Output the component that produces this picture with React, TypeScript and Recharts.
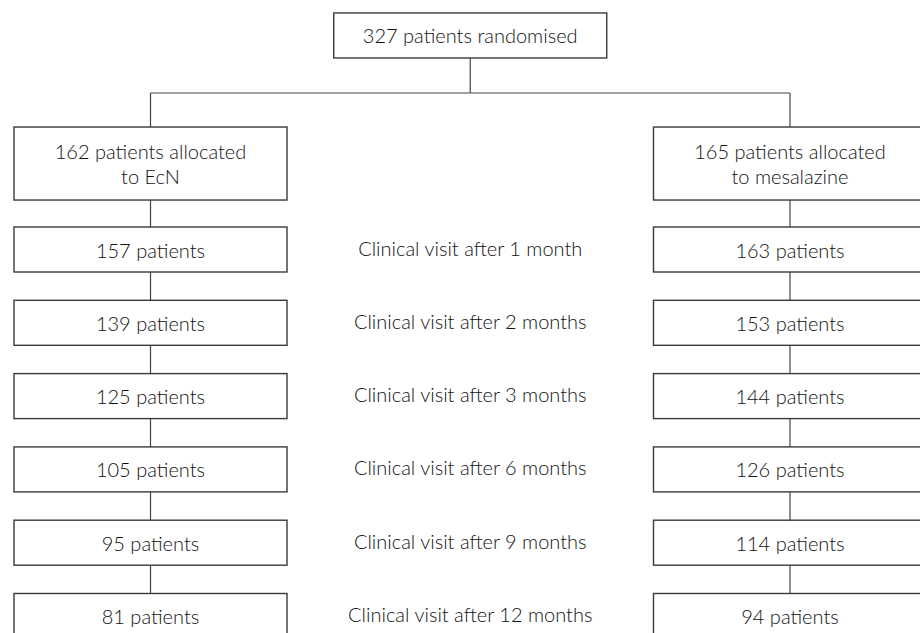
import { ComposedChart, Scatter, Line, XAxis, YAxis } from 'recharts'

// flow values
const totalRandomised = 327
const armNames = ['EcN', 'mesalazine']
const armAllocated = [162, 165]
const visitMonths = [1, 2, 3, 6, 9, 12]
const ecnCounts = [157, 139, 125, 105, 95, 81]
const mesalazineCounts = [163, 153, 144, 126, 114, 94]

// layout: column index on x, level on y (visit rows are levels 0..5)
const COL_ECN = 0
const COL_MID = 1
const COL_MES = 2
const LEVEL_TOP = -2.92
const LEVEL_SPLIT = -2.135
const LEVEL_ALLOC = -1.173
const LAST_LEVEL = visitMonths.length - 1

const BOX_W = 273
const ROW_H = 45
const ALLOC_H = 73
const FONT = 'Lato, "Open Sans", sans-serif'
const FONT_SIZE = 20
const TEXT = '#111'
const EDGE = '#3a3a3a'

interface Box {
  x: number
  y: number
  lines: string[]
  h: number
}

const boxes: Box[] = [
  { x: COL_MID, y: LEVEL_TOP, lines: [`${totalRandomised} patients randomised`], h: ROW_H },
  ...armAllocated.map((n, i) => ({
    x: i === 0 ? COL_ECN : COL_MES,
    y: LEVEL_ALLOC,
    lines: [`${n} patients allocated`, `to ${armNames[i]}`],
    h: ALLOC_H,
  })),
  ...ecnCounts.map((n, i) => ({ x: COL_ECN, y: i, lines: [`${n} patients`], h: ROW_H })),
  ...mesalazineCounts.map((n, i) => ({ x: COL_MES, y: i, lines: [`${n} patients`], h: ROW_H })),
]

const visitLabels = visitMonths.map((m, i) => ({
  x: COL_MID,
  y: i,
  text: `Clinical visit after ${m} month${m > 1 ? 's' : ''}`,
}))

const connectors = [
  [{ x: COL_MID, y: LEVEL_TOP }, { x: COL_MID, y: LEVEL_SPLIT }],
  [{ x: COL_ECN, y: LEVEL_SPLIT }, { x: COL_MES, y: LEVEL_SPLIT }],
  [{ x: COL_ECN, y: LEVEL_SPLIT }, { x: COL_ECN, y: LAST_LEVEL }],
  [{ x: COL_MES, y: LEVEL_SPLIT }, { x: COL_MES, y: LAST_LEVEL }],
]

function BoxShape(props: any) {
  const { cx, cy, payload } = props
  const b = payload as Box
  const gap = 25
  const y0 = cy - ((b.lines.length - 1) * gap) / 2
  return (
    <g>
      <rect
        x={cx - BOX_W / 2}
        y={cy - b.h / 2}
        width={BOX_W}
        height={b.h}
        fill="#fff"
        stroke={EDGE}
        strokeWidth={1.4}
      />
      {b.lines.map((t, i) => (
        <text
          key={i}
          x={cx}
          y={y0 + i * gap}
          textAnchor="middle"
          dominantBaseline="central"
          fontFamily={FONT}
          fontWeight={300}
          fontSize={FONT_SIZE}
          fill={TEXT}
        >
          {t}
        </text>
      ))}
    </g>
  )
}

function LabelShape(props: any) {
  const { cx, cy, payload } = props
  return (
    <text
      x={cx}
      y={cy - 2}
      textAnchor="middle"
      dominantBaseline="central"
      fontFamily={FONT}
      fontWeight={300}
      fontSize={FONT_SIZE}
      fill={TEXT}
    >
      {payload.text}
    </text>
  )
}

export default function App() {
  return (
    <div style={{ position: 'absolute', left: 0, top: 0, background: '#fff' }}>
      <ComposedChart width={920} height={633} margin={{ top: 0, right: 0, bottom: 0, left: 0 }}>
        <XAxis type="number" dataKey="x" domain={[-0.4707, 2.4066]} allowDataOverflow hide />
        <YAxis type="number" dataKey="y" domain={[-3.404, 5.232]} allowDataOverflow reversed hide />
        {connectors.map((seg, i) => (
          <Line
            key={i}
            data={seg}
            dataKey="y"
            type="linear"
            stroke="#444"
            strokeWidth={1.2}
            dot={false}
            activeDot={false}
            isAnimationActive={false}
          />
        ))}
        <Scatter data={boxes} dataKey="y" shape={<BoxShape />} isAnimationActive={false} />
        <Scatter data={visitLabels} dataKey="y" shape={<LabelShape />} isAnimationActive={false} />
      </ComposedChart>
    </div>
  )
}
